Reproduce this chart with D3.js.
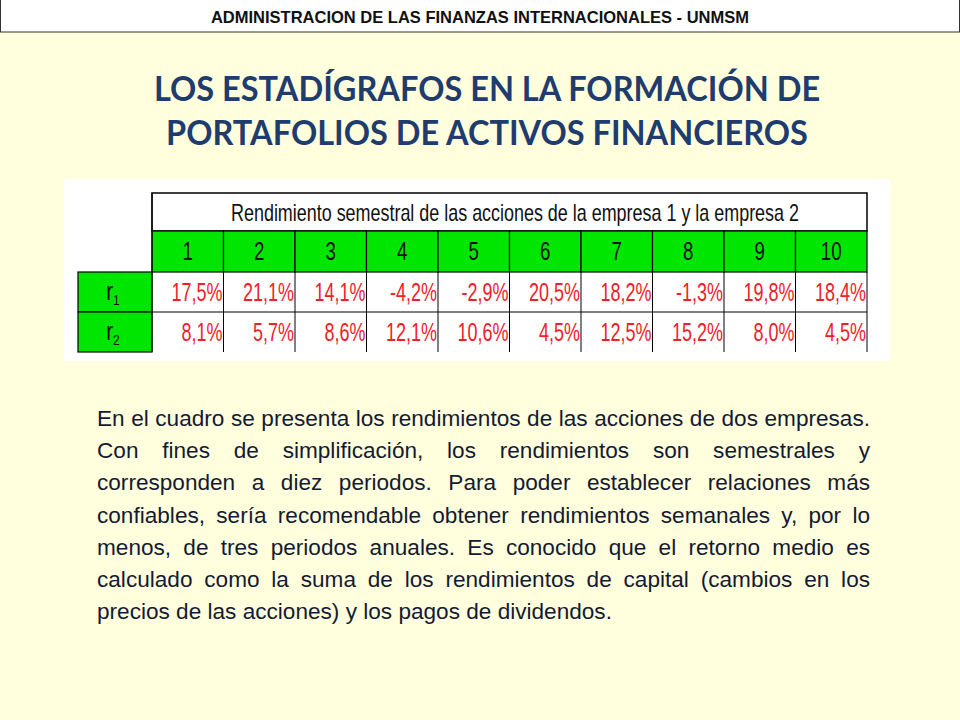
<!DOCTYPE html>
<html><head><meta charset="utf-8">
<script src="https://cdn.jsdelivr.net/npm/d3@7"></script>
<style>
body{margin:0;background:#FFFFDD;width:960px;height:720px;overflow:hidden;position:relative;font-family:"Liberation Sans",Arial,sans-serif}
#para{position:absolute;left:97px;top:403px;width:773px;font-size:22.6px;line-height:32.2px;text-align:justify;color:#141a33}
</style></head><body>
<svg id="chart" width="960" height="400" style="position:absolute;left:0;top:0"></svg>
<div id="para"></div>
<script>
var periods = ["1","2","3","4","5","6","7","8","9","10"];
var r1 = ["17,5%","21,1%","14,1%","-4,2%","-2,9%","20,5%","18,2%","-1,3%","19,8%","18,4%"];
var r2 = ["8,1%","5,7%","8,6%","12,1%","10,6%","4,5%","12,5%","15,2%","8,0%","4,5%"];
var rowLabels = ["1","2"];
var header = "ADMINISTRACION DE LAS FINANZAS INTERNACIONALES - UNMSM";
var titleLines = ["LOS ESTADÍGRAFOS EN LA FORMACIÓN DE","PORTAFOLIOS DE ACTIVOS FINANCIEROS"];
var tableTitle = "Rendimiento semestral de las acciones de la empresa 1 y la empresa 2";
var paragraph = "En el cuadro se presenta los rendimientos de las acciones de dos empresas. Con fines de simplificación, los rendimientos son semestrales y corresponden a diez periodos. Para poder establecer relaciones más confiables, sería recomendable obtener rendimientos semanales y, por lo menos, de tres periodos anuales. Es conocido que el retorno medio es calculado como la suma de los rendimientos de capital (cambios en los precios de las acciones) y los pagos de dividendos.";

var svg = d3.select("#chart");
var narrow = "'Liberation Sans', Arial, sans-serif";

// narrow text helper: horizontally squeezed text
function nText(sel, x, y, sx){
  return sel.append("text").attr("transform","translate("+x+","+y+") scale("+sx+",1)")
    .attr("font-family",narrow);
}

// top banner
svg.append("rect").attr("x",0.5).attr("y",-1).attr("width",959).attr("height",33)
   .attr("fill","#fff").attr("stroke","#333");
svg.append("text").attr("x",480).attr("y",23).attr("text-anchor","middle")
   .attr("font-size",16.5).attr("font-weight","bold").attr("fill","#111").text(header);

// title
titleLines.forEach(function(t,i){
  svg.append("text").attr("transform","translate(487,"+(101+i*44)+") scale(0.93,1)")
   .attr("text-anchor","middle").attr("font-family","Lato, 'Open Sans', sans-serif")
   .attr("font-weight","bold").attr("font-size",35).attr("fill","#1F3C6E").text(t);
});

// table image area
svg.append("rect").attr("x",64).attr("y",179).attr("width",826).attr("height",182).attr("fill","#fff");

var x = d3.scaleBand().domain(periods).range([152,867]);
var rowY = [193,231,272,312,352];
var g = svg.append("g");

// table title cell
g.append("rect").attr("x",152).attr("y",rowY[0]).attr("width",715).attr("height",rowY[1]-rowY[0])
 .attr("fill","#fff").attr("stroke","#000").attr("stroke-width",1.5);
nText(g,515,221,0.78).attr("text-anchor","middle").attr("font-size",23).attr("fill","#111").text(tableTitle);

// period header
periods.forEach(function(d){
  g.append("rect").attr("x",x(d)).attr("y",rowY[1])
   .attr("width",x.bandwidth()).attr("height",rowY[2]-rowY[1])
   .attr("fill","#00E600").attr("stroke","#000").attr("stroke-width",1.2);
  nText(g,x(d)+x.bandwidth()/2,260,0.75).attr("text-anchor","middle")
   .attr("font-size",25).attr("fill","#111").text(d);
});

// data rows
[r1,r2].forEach(function(row,ri){
  var y0 = rowY[2+ri], h = rowY[3+ri]-y0;
  g.append("rect").attr("x",78).attr("y",y0).attr("width",74).attr("height",h)
   .attr("fill","#00E600").attr("stroke","#000").attr("stroke-width",1.2);
  var lt = nText(g,113,y0+h/2+8,0.8).attr("text-anchor","middle").attr("font-size",26).attr("fill","#111");
  lt.append("tspan").text("r");
  lt.append("tspan").attr("font-size",15).attr("dy",5).text(rowLabels[ri]);
  row.forEach(function(d,i){
    var xr = x(periods[i])+x.bandwidth();
    g.append("line").attr("x1",xr).attr("x2",xr).attr("y1",y0).attr("y2",y0+h).attr("stroke","#000");
    nText(g,xr-1,y0+h/2+9,0.72).attr("text-anchor","end")
     .attr("font-size",25).attr("fill","#F0202A").text(d);
  });
  if(ri==0) g.append("line").attr("x1",152).attr("x2",867).attr("y1",y0+h).attr("y2",y0+h).attr("stroke","#000");
});
g.append("line").attr("x1",152).attr("x2",152).attr("y1",rowY[0]).attr("y2",rowY[4]).attr("stroke","#000");

d3.select("#para").text(paragraph);
</script>
</body></html>
